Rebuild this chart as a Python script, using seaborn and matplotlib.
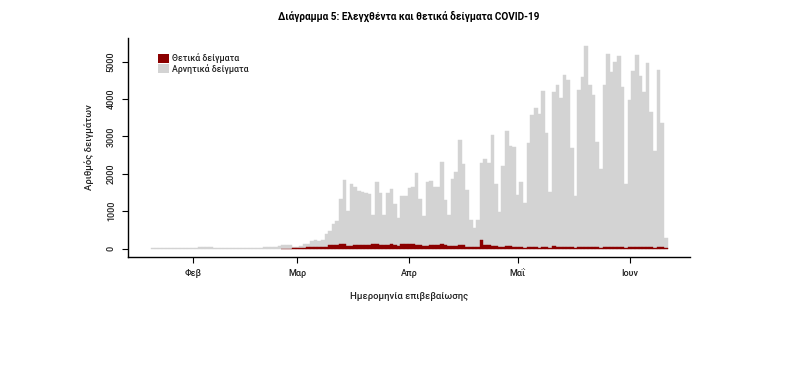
import numpy as np
import pandas as pd
import seaborn as sns
import matplotlib.pyplot as plt
import matplotlib.dates as mdates
from matplotlib.patches import Patch

# daily samples tested (top of grey bar) and positives
start_date = "2020-01-21"
tested_jan = [10, 15, 20, 20, 25, 20, 25, 20, 25, 25, 20]
tested_feb = [25, 20, 30, 45, 55, 40, 25, 20, 20, 25, 25, 20, 25, 20, 20,
              20, 25, 25, 20, 25, 30, 30, 35, 40, 60, 95, 100, 90, 55]
tested_mar = [50, 70, 110, 120, 205, 230, 205, 220, 380, 480, 650, 730, 1320,
              1830, 1000, 1725, 1640, 1550, 1520, 1480, 1450, 900, 1790, 1480,
              900, 1480, 1590, 1190, 830, 1415, 1415]
tested_apr = [1627, 1653, 2027, 1317, 880, 1770, 1805, 1653, 1653, 2320, 1298,
              899, 1858, 2053, 2898, 2258, 1565, 765, 543, 765, 2293, 2383,
              2293, 3032, 1725, 987, 2205, 3139, 2739, 2720]
tested_may = [1432, 1787, 1210, 2827, 3565, 3770, 3592, 4205, 3093, 1520, 4187,
              4365, 4027, 4650, 4499, 2677, 1405, 4250, 4587, 5405, 4365, 4099,
              2853, 2117, 4384, 5192, 4720, 4987, 5147, 4320, 1725]
tested_jun = [3965, 4739, 5165, 4605, 4187, 4970, 3653, 2613, 4784, 3360, 277]

pos_jan = [0, 0, 0, 0, 0, 0, 0, 0, 0, 0, 0]
pos_feb = [0, 0, 0, 0, 0, 0, 0, 0, 0, 0, 0, 0, 0, 0, 0,
           0, 0, 0, 0, 0, 0, 0, 0, 0, 0, 1, 2, 1, 3]
pos_mar = [5, 5, 10, 45, 45, 35, 35, 30, 35, 85, 90, 95, 117, 117, 76, 76,
           85, 85, 85, 85, 85, 125, 125, 90, 107, 107, 120, 100, 80, 125, 130]
pos_apr = [117, 117, 90, 90, 76, 76, 90, 90, 107, 110, 90, 70, 70, 75, 107,
           107, 55, 50, 35, 35, 225, 100, 100, 76, 70, 45, 45, 60, 60, 40]
pos_may = [35, 30, 25, 40, 45, 30, 25, 40, 35, 20, 60, 45, 35, 55, 50, 30,
           20, 45, 55, 40, 35, 50, 30, 20, 40, 50, 35, 45, 40, 30, 20]
pos_jun = [35, 45, 40, 50, 35, 45, 30, 25, 45, 35, 20]

month_ticks = ["2020-02-01", "2020-03-01", "2020-04-01", "2020-05-01", "2020-06-01"]
month_labels = ["Φεβ", "Μαρ", "Απρ", "Μαΐ", "Ιουν"]

tested = tested_jan + tested_feb + tested_mar + tested_apr + tested_may + tested_jun
positive = pos_jan + pos_feb + pos_mar + pos_apr + pos_may + pos_jun
dates = pd.date_range(start_date, periods=len(tested), freq="D")

df = pd.DataFrame({"day": mdates.date2num(dates), "tested": tested,
                   "positive": positive})
df_pos = df[df["positive"] > 0]

sns.set_theme(style="ticks")
plt.rcParams["font.family"] = ["Roboto", "DejaVu Sans"]
txt = "#222222"

GREY = "#d3d3d3"
RED = "#8b0000"

fig = plt.figure(figsize=(8, 3.75), dpi=100)
ax = fig.add_axes([0.1604, 0.3155, 0.7021, 0.5824])

sns.histplot(data=df, x="day", weights="tested", discrete=True, color=GREY,
             alpha=1, edgecolor=GREY, linewidth=0.3, ax=ax)
sns.histplot(data=df_pos, x="day", weights="positive", discrete=True, color=RED,
             alpha=1, edgecolor=RED, linewidth=0.3, ax=ax)

tick_pos = mdates.date2num(pd.to_datetime(month_ticks))
ax.set_xlim(tick_pos[0] - 17.84, tick_pos[-1] + 16.73)
ax.set_ylim(-216, 5621)
ax.set_xticks(tick_pos)
ax.set_xticklabels(month_labels, fontsize=6.5, color=txt, fontweight="medium")
ax.set_yticks([0, 1000, 2000, 3000, 4000, 5000])
ax.set_yticklabels(["0", "1000", "2000", "3000", "4000", "5000"], fontsize=6.5,
                   color=txt, rotation=90, va="center", fontweight="medium")
ax.tick_params(axis="x", length=4, width=0.8, pad=5, color="black")
ax.tick_params(axis="y", length=4, width=0.8, pad=5, color="black")

sns.despine(ax=ax)
for s in ["left", "bottom"]:
    ax.spines[s].set_linewidth(1)
    ax.spines[s].set_color("black")

ax.set_xlabel("Ημερομηνία επιβεβαίωσης", fontsize=6.8, color=txt, labelpad=10,
              fontweight="medium")
ax.set_ylabel("Αριθμός δειγμάτων", fontsize=6.8, color=txt, labelpad=9,
              fontweight="medium")

fig.text(0.511, 0.955, "Διάγραμμα 5: Ελεγχθέντα και θετικά δείγματα COVID-19",
         ha="center", va="center", fontsize=7.2, fontweight="bold", color="black")

handles = [Patch(facecolor=RED, edgecolor="none"), Patch(facecolor=GREY, edgecolor="none")]
leg = ax.legend(handles, ["Θετικά δείγματα", "Αρνητικά δείγματα"], loc="upper left",
                bbox_to_anchor=(0.053, 0.93), frameon=False,
                prop={"size": 6.3, "weight": "medium"},
                handlelength=1.3, handleheight=1.2, labelspacing=0.05,
                handletextpad=0.3, borderpad=0, borderaxespad=0, labelcolor=txt)

fig.savefig("out.png", dpi=100, facecolor="white")
